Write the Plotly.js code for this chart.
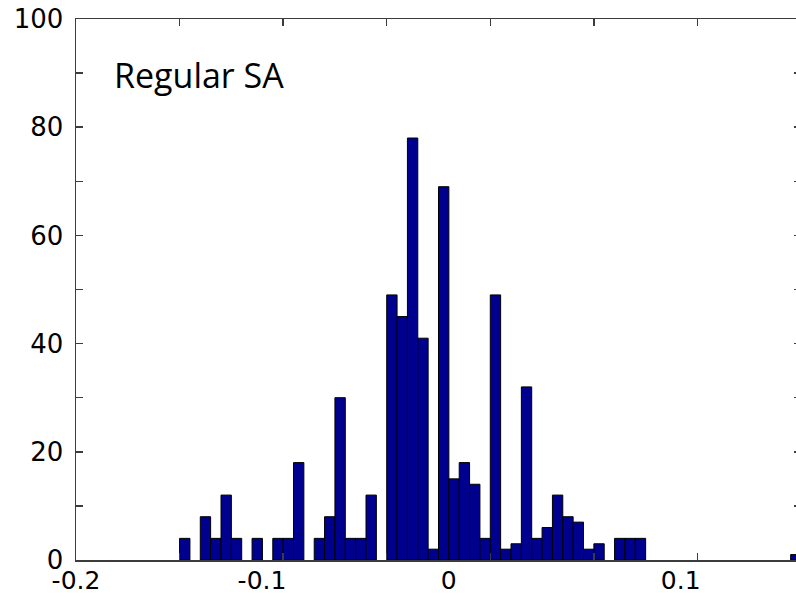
<!DOCTYPE html>
<html>
<head>
<meta charset="utf-8">
<script src="https://cdn.plot.ly/plotly-3.0.1.min.js"></script>
<style>
html,body{margin:0;padding:0;overflow:hidden;background:#fff;}
#chart{width:806px;height:597px;}
</style>
</head>
<body>
<div id="chart"></div>
<script>
// Histogram bin centres (bin width 0.005) and counts
const binCenters = [-0.1475,-0.1375,-0.1325,-0.1275,-0.1225,-0.1125,-0.1025,-0.0975,-0.0925,
  -0.0825,-0.0775,-0.0725,-0.0675,-0.0625,-0.0575,
  -0.0475,-0.0425,-0.0375,-0.0325,-0.0275,-0.0225,-0.0175,-0.0125,-0.0075,-0.0025,
  0.0025,0.0075,0.0125,0.0175,0.0225,0.0275,0.0325,0.0375,0.0425,0.0475,0.0525,
  0.0625,0.0675,0.0725,0.1475];
const counts = [4,8,4,12,4,4,4,4,18,
  4,8,30,4,4,12,
  49,45,78,41,2,69,15,18,14,4,
  49,2,3,32,4,6,12,8,7,2,3,
  4,4,4,1];
const binWidth = 0.005;
const xTickVals = [-0.2,-0.15,-0.1,-0.05,0,0.05,0.1,0.15];
const xLabelPos = [-0.2,-0.1102,-0.0201,0.0919];
const xLabelText = ['-0.2','-0.1','0','0.1'];
const yTickVals = [0,10,20,30,40,50,60,70,80,90,100];
const yTickText = ['0','','20','','40','','60','','80','','100'];
const panelLabel = 'Regular SA';

const axisColor = '#3c3c3c';
const tickFont = {family:'DejaVu Sans, Verdana, sans-serif', size:26, color:'#000'};
const xTickFont = {family:'DejaVu Sans, Verdana, sans-serif', size:25, color:'#000'};

const traces = [
  {
    type:'bar', x:binCenters, y:counts, width:binWidth,
    marker:{color:'#00008F', line:{color:'#000', width:1}},
    xaxis:'x', yaxis:'y', hoverinfo:'x+y'
  },
  {type:'scatter', x:[], y:[], xaxis:'x2', yaxis:'y', showlegend:false, hoverinfo:'skip'}
];

const layout = {
  width:806, height:597,
  margin:{l:76, r:5, t:19, b:37},
  paper_bgcolor:'#fff', plot_bgcolor:'#fff',
  showlegend:false, bargap:0,
  xaxis:{
    range:[-0.2,0.15], tickmode:'array', tickvals:xTickVals, showticklabels:false,
    ticks:'inside', ticklen:7, tickwidth:1.5, tickcolor:axisColor,
    showline:true, linecolor:axisColor, linewidth:1.5, mirror:'ticks',
    showgrid:false, zeroline:false
  },
  xaxis2:{
    range:[-0.2,0.15], overlaying:'x', anchor:'y', side:'bottom',
    tickmode:'array', tickvals:xLabelPos, ticktext:xLabelText,
    ticks:'', showline:false, showgrid:false, zeroline:false,
    tickfont:xTickFont, ticklabelstandoff:3
  },
  yaxis:{
    range:[0,100], tickmode:'array', tickvals:yTickVals, ticktext:yTickText,
    ticks:'inside', ticklen:7, tickwidth:1.5, tickcolor:axisColor,
    showline:true, linecolor:axisColor, linewidth:1.5, mirror:'ticks',
    showgrid:false, zeroline:false, tickfont:tickFont, ticklabelstandoff:6
  },
  annotations:[{
    text:panelLabel, xref:'paper', yref:'paper', x:0.0497, y:0.896,
    xanchor:'left', yanchor:'middle', showarrow:false,
    font:{family:'Open Sans, Noto Sans, sans-serif', size:34, color:'#000'}
  }]
};

Plotly.newPlot('chart', traces, layout, {displayModeBar:false, staticPlot:true});
</script>
</body>
</html>
